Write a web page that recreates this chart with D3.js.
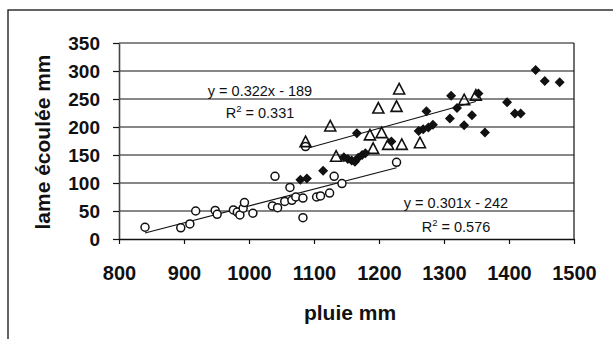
<!DOCTYPE html>
<html>
<head>
<meta charset="utf-8">
<script src="https://cdn.jsdelivr.net/npm/d3@7"></script>
<style>
  body { margin: 0; background: #fff; }
  svg { display: block; font-family: "Liberation Sans", Arial, sans-serif; }
</style>
</head>
<body>
<svg id="chart" width="613" height="339"></svg>
<script>
// rainfall (pluie mm) vs runoff depth (lame écoulée mm), three groups
const circlePts = [
  [840, 21], [895, 20], [909, 27], [918, 50], [948, 51], [951, 44],
  [976, 52], [982, 48], [986, 43], [991, 55], [993, 65], [1006, 46],
  [1036, 59], [1040, 112], [1044, 56], [1055, 67], [1063, 92], [1066, 69],
  [1072, 75], [1083, 73], [1083, 38], [1087, 165], [1104, 75], [1110, 77],
  [1124, 82], [1131, 112], [1143, 99], [1227, 137],
];
const diamondPts = [
  [1079, 106], [1089, 108], [1114, 122], [1146, 146], [1152, 143],
  [1158, 140], [1163, 138], [1168, 145], [1174, 150], [1179, 153],
  [1166, 189], [1219, 174], [1261, 193], [1268, 196], [1276, 199],
  [1283, 204], [1273, 228], [1309, 215], [1311, 256], [1320, 234],
  [1331, 203], [1343, 221], [1353, 260], [1363, 190], [1397, 244],
  [1409, 224], [1418, 224], [1441, 302], [1455, 282], [1478, 280],
];
const trianglePts = [
  [1087, 173], [1125, 201], [1134, 147], [1186, 185], [1191, 161],
  [1199, 233], [1204, 189], [1214, 168], [1227, 236], [1231, 267],
  [1235, 168], [1263, 171], [1331, 248], [1349, 256],
];

// trend lines: slope, intercept, x range
const fitCircles = { a: 0.301, b: -242, x0: 840, x1: 1227, eq: "y = 0.301x - 242", r2: "0.576" };
const fitTriangles = { a: 0.322, b: -189, x0: 1087, x1: 1349, eq: "y = 0.322x - 189", r2: "0.331" };

const xTicks = [800, 900, 1000, 1100, 1200, 1300, 1400, 1500];
const yTicks = [0, 50, 100, 150, 200, 250, 300, 350];

const svg = d3.select("#chart");
const width = 613, height = 339;
const plot = { left: 119, right: 574, top: 43, bottom: 239 };

svg.append("rect").attr("width", width).attr("height", height).attr("fill", "#fff");

// outer chart frame (runs off the right and bottom of the picture)
svg.append("rect")
  .attr("x", 8).attr("y", 10)
  .attr("width", 700).attr("height", 400)
  .attr("fill", "none").attr("stroke", "#111").attr("stroke-width", 1.3);

const x = d3.scaleLinear().domain([800, 1500]).range([plot.left, plot.right]);
const y = d3.scaleLinear().domain([0, 350]).range([plot.bottom, plot.top]);

// horizontal gridlines
svg.append("g")
  .selectAll("line")
  .data(yTicks.filter((d) => d > 0))
  .join("line")
  .attr("x1", plot.left).attr("x2", plot.right)
  .attr("y1", (d) => y(d)).attr("y2", (d) => y(d))
  .attr("stroke", "#111").attr("stroke-width", 1.2);

// right border of plot area
svg.append("line")
  .attr("x1", plot.right).attr("x2", plot.right)
  .attr("y1", plot.top).attr("y2", plot.bottom)
  .attr("stroke", "#111").attr("stroke-width", 1.2);

const yAxis = svg.append("g")
  .attr("transform", `translate(${plot.left},0)`)
  .call(d3.axisLeft(y).tickValues(yTicks).tickFormat(d3.format("d"))
    .tickSize(6).tickSizeOuter(0).tickPadding(13));
yAxis.select(".domain").attr("stroke", "#444").attr("stroke-width", 1.6);
yAxis.selectAll(".tick line").attr("stroke", "#111").attr("stroke-width", 1.2);
yAxis.selectAll("text")
  .attr("font-size", 19).attr("font-weight", "bold").attr("fill", "#111")
  .attr("font-family", "Liberation Sans, Arial, sans-serif");

const xAxis = svg.append("g")
  .attr("transform", `translate(0,${plot.bottom})`)
  .call(d3.axisBottom(x).tickValues(xTicks).tickFormat(d3.format("d"))
    .tickSize(5).tickSizeOuter(0).tickPadding(22));
xAxis.select(".domain").attr("stroke", "#111").attr("stroke-width", 1.4);
xAxis.selectAll(".tick line").attr("stroke", "#111").attr("stroke-width", 1.2);
xAxis.selectAll("text")
  .attr("font-size", 20).attr("font-weight", "bold").attr("fill", "#111")
  .attr("font-family", "Liberation Sans, Arial, sans-serif");

// trend lines
const fitLine = (f) => [[f.x0, f.a * f.x0 + f.b], [f.x1, f.a * f.x1 + f.b]];
const line = d3.line().x((d) => x(d[0])).y((d) => y(d[1]));
svg.append("g")
  .selectAll("path")
  .data([fitCircles, fitTriangles])
  .join("path")
  .attr("d", (f) => line(fitLine(f)))
  .attr("fill", "none").attr("stroke", "#111").attr("stroke-width", 1.1);

// markers
const marks = svg.append("g");
marks.selectAll("circle")
  .data(circlePts)
  .join("circle")
  .attr("cx", (d) => x(d[0])).attr("cy", (d) => y(d[1]))
  .attr("r", 4)
  .attr("fill", "#fff").attr("stroke", "#111").attr("stroke-width", 1.5);

marks.selectAll("path.tri")
  .data(trianglePts)
  .join("path")
  .attr("class", "tri")
  .attr("transform", (d) => `translate(${x(d[0])},${y(d[1])})`)
  .attr("d", "M0,-6L5.5,4.5L-5.5,4.5Z")
  .attr("fill", "none").attr("stroke", "#111").attr("stroke-width", 1.6);

marks.selectAll("path.dia")
  .data(diamondPts)
  .join("path")
  .attr("class", "dia")
  .attr("transform", (d) => `translate(${x(d[0])},${y(d[1])})`)
  .attr("d", "M0,-5L5,0L0,5L-5,0Z")
  .attr("fill", "#111");

// equation labels
const eqLabel = (f, cx, yEq, yR2) => {
  svg.append("text")
    .attr("x", cx).attr("y", yEq)
    .attr("text-anchor", "middle").attr("font-size", 14.5).attr("fill", "#111")
    .text(f.eq);
  const t = svg.append("text")
    .attr("x", cx).attr("y", yR2)
    .attr("text-anchor", "middle").attr("font-size", 14.5).attr("fill", "#111");
  t.append("tspan").text("R");
  t.append("tspan").attr("dy", -6).attr("font-size", 9.5).text("2");
  t.append("tspan").attr("dy", 6).text(" = " + f.r2);
};
eqLabel(fitTriangles, 260, 96, 118);
eqLabel(fitCircles, 456, 208, 232);

// axis titles
svg.append("text")
  .attr("transform", "translate(50,142) rotate(-90)")
  .attr("text-anchor", "middle")
  .attr("font-size", 21).attr("font-weight", "bold").attr("fill", "#111")
  .text("lame écoulée mm");

svg.append("text")
  .attr("x", 350).attr("y", 320)
  .attr("text-anchor", "middle")
  .attr("font-size", 21).attr("font-weight", "bold").attr("fill", "#111")
  .text("pluie mm");
</script>
</body>
</html>
